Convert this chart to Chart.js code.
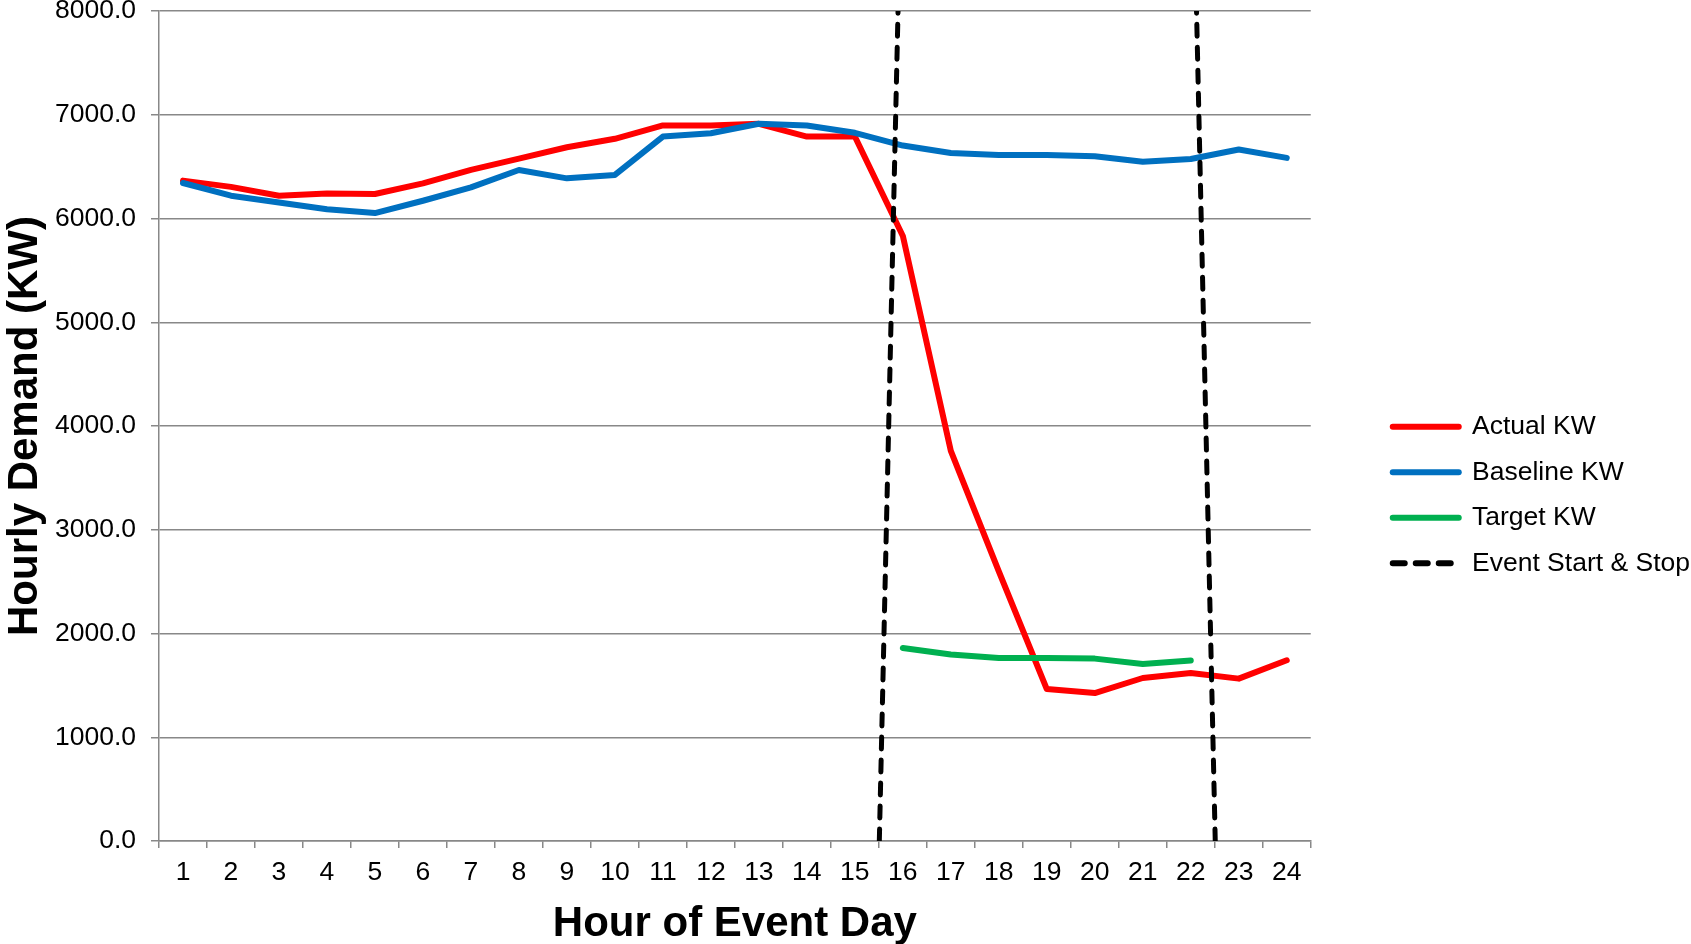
<!DOCTYPE html>
<html>
<head>
<meta charset="utf-8">
<script src="https://cdn.jsdelivr.net/npm/chart.js@4.4.1/dist/chart.umd.min.js"></script>
<style>
  html, body { margin: 0; padding: 0; background: #ffffff; }
  #wrap { width: 1691px; height: 944px; }
</style>
</head>
<body>
<div id="wrap"><canvas id="c" width="1691" height="944"></canvas></div>
<script>
// ---- data ----
const hours = ['1','2','3','4','5','6','7','8','9','10','11','12','13','14','15','16','17','18','19','20','21','22','23','24'];
const actualKW   = [6365, 6305, 6220, 6242, 6236, 6339, 6468, 6577, 6687, 6768, 6897, 6897, 6913, 6790, 6790, 5832, 3760, 2598, 1464, 1426, 1571, 1619, 1565, 1742];
const baselineKW = [6342, 6220, 6155, 6090, 6052, 6171, 6300, 6468, 6387, 6420, 6790, 6822, 6913, 6897, 6826, 6703, 6632, 6613, 6613, 6600, 6548, 6574, 6665, 6584];
const targetKW   = [null, null, null, null, null, null, null, null, null, null, null, null, null, null, null, 1861, 1797, 1764, 1764, 1758, 1706, 1739, null, null];
const eventX = [15.51, 15.90, null, 22.51, 22.12];
const eventY = [0, 8000, null, 0, 8000];
const yTicks = [0, 1000, 2000, 3000, 4000, 5000, 6000, 7000, 8000];

const FONT = "'Liberation Sans', Arial, Helvetica, sans-serif";
const GRID = '#888888';
Chart.defaults.font.family = FONT;
Chart.defaults.color = '#000000';

const eventPoints = eventX.map((x, i) => ({ x: x, y: eventY[i] }));

new Chart(document.getElementById('c'), {
  type: 'line',
  data: {
    labels: hours,
    datasets: [
      { label: 'Actual KW', data: actualKW, borderColor: '#FF0000', backgroundColor: '#FF0000',
        borderWidth: 6, pointRadius: 0, borderCapStyle: 'round', borderJoinStyle: 'round', order: 4 },
      { label: 'Baseline KW', data: baselineKW, borderColor: '#0070C0', backgroundColor: '#0070C0',
        borderWidth: 6, pointRadius: 0, borderCapStyle: 'round', borderJoinStyle: 'round', order: 3 },
      { label: 'Target KW', data: targetKW, borderColor: '#00B050', backgroundColor: '#00B050',
        borderWidth: 6, pointRadius: 0, borderCapStyle: 'round', borderJoinStyle: 'round', spanGaps: false, order: 2 },
      { label: 'Event Start & Stop', data: eventPoints, xAxisID: 'x2', borderColor: '#000000', backgroundColor: '#000000',
        borderWidth: 5, borderDash: [12, 11], pointRadius: 0, borderCapStyle: 'round', spanGaps: false, order: 1 }
    ]
  },
  options: {
    responsive: false,
    animation: false,
    devicePixelRatio: 1,
    layout: { padding: { top: 11, left: 0, right: -9, bottom: 0 } },
    plugins: {
      tooltip: { enabled: false },
      legend: {
        position: 'right',
        align: 'center',
        maxWidth: 360,
        title: { display: true, text: '', font: { size: 35, lineHeight: 1 }, padding: 0 },
        labels: {
          usePointStyle: true,
          pointStyleWidth: 66,
          padding: 19,
          color: '#000000',
          font: { size: 26.5, family: FONT },
          generateLabels: (chart) => chart.data.datasets.map((ds, i) => ({
            text: ds.label,
            strokeStyle: ds.borderColor,
            fillStyle: ds.borderColor,
            lineWidth: 6,
            lineDash: ds.borderDash || [],
            lineCap: 'round',
            pointStyle: 'line',
            hidden: false,
            datasetIndex: i,
            fontColor: '#000000'
          }))
        }
      }
    },
    scales: {
      x: {
        type: 'category',
        position: 'bottom',
        offset: true,
        grid: { offset: true, drawOnChartArea: false, drawTicks: true, tickLength: 7, color: GRID, lineWidth: 1.5 },
        border: { display: true, color: GRID, width: 1.5 },
        ticks: { autoSkip: false, maxRotation: 0, minRotation: 0, padding: 9, color: '#000000', font: { size: 26.5 } },
        title: { display: true, text: 'Hour of Event Day', color: '#000000', font: { size: 42, weight: 'bold', lineHeight: 1 }, padding: { top: 0, bottom: -1 } },
        afterFit: (s) => { s.height = 103; s.paddingLeft = 0; s.paddingRight = 0; }
      },
      x2: {
        type: 'linear',
        display: false,
        position: 'bottom',
        min: 0.5,
        max: 24.5
      },
      y: {
        type: 'linear',
        position: 'left',
        min: 0,
        max: 8000,
        afterBuildTicks: (s) => { s.ticks = yTicks.map(v => ({ value: v })); },
        ticks: { padding: 15, color: '#000000', font: { size: 26.5 }, callback: (v) => Number(v).toFixed(1) },
        grid: { color: GRID, lineWidth: 1.5, tickLength: 8, drawTicks: true },
        border: { display: true, color: GRID, width: 1.5 },
        title: { display: true, text: 'Hourly Demand (KW)', color: '#000000', font: { size: 42, weight: 'bold' }, padding: 0 },
        afterFit: (s) => { s.width = 159; s.paddingTop = 0; s.paddingBottom = 0; }
      },
      gap: {
        type: 'linear',
        position: 'right',
        display: true,
        grid: { display: false, drawTicks: false },
        border: { display: false },
        ticks: { display: false },
        afterFit: (s) => { s.width = 63; s.paddingTop = 0; s.paddingBottom = 0; }
      }
    }
  }
});
</script>
</body>
</html>
